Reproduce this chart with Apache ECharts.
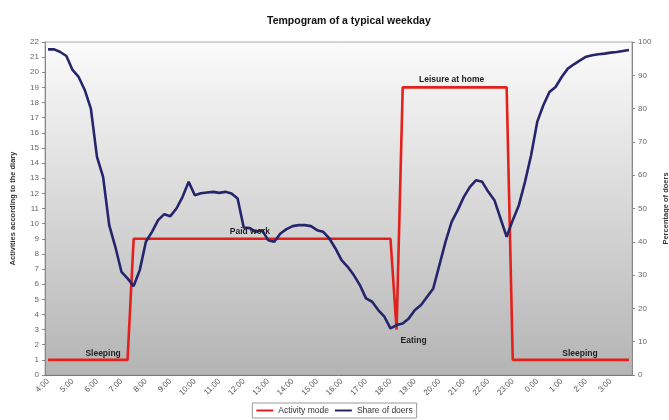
<!DOCTYPE html>
<html><head><meta charset="utf-8">
<script src="https://cdn.jsdelivr.net/npm/echarts@6/dist/echarts.min.js"></script>
<style>html,body{margin:0;padding:0;background:#fff}#c{width:669px;height:420px}</style>
</head><body><div id="c"></div>
<script>
// hour tick labels (4:00 to 3:00 next day)
var hourLabels = ['4:00','5:00','6:00','7:00','8:00','9:00','10:00','11:00','12:00','13:00','14:00','15:00',
  '16:00','17:00','18:00','19:00','20:00','21:00','22:00','23:00','0:00','1:00','2:00','3:00'];
// 15-minute categories
var categories = [];
hourLabels.forEach(function(h){ var p = h.split(':')[0]; categories.push(p+':00', p+':15', p+':30', p+':45'); });

// Activity mode (left axis, activity code)
var activityMode = [
  1,1,1,1,1,1,1,1,1,1,1,1,1,1,           // 4:00-7:15 sleeping
  9,9,9,9,9,9,9,9,9,9,9,9,9,9,9,9,9,9,9,9,9,9,9,9,9,9,9,9,9,9,9,9,9,9,9,9,9,9,9,9,9,9,9, // 7:30-18:00 paid work
  3,                                      // 18:15 eating
  19,19,19,19,19,19,19,19,19,19,19,19,19,19,19,19,19,19, // 18:30-22:45 leisure
  1,1,1,1,1,1,1,1,1,1,1,1,1,1,1,1,1,1,1,1  // 23:00-3:45 sleeping
];
// Share of doers (right axis, %)
var shareOfDoers = [
  97.8,97.8,97.0,95.8,91.6,89.5,85.6,80.0,65.5,59.5,45.0,38.5,31.0,29.0,26.7,31.5,
  40.0,43.0,46.5,48.3,47.7,50.0,53.5,58.0,54.0,54.6,54.8,55.0,54.7,55.0,54.5,53.0,
  44.3,44.1,43.0,43.5,40.5,40.0,42.5,43.8,44.7,45.0,45.0,44.7,43.5,43.0,41.0,38.0,
  34.5,32.5,30.0,27.0,23.0,22.0,19.5,17.5,14.0,15.0,15.5,17.0,19.5,21.0,23.5,26.0,
  33.0,40.0,46.0,49.5,53.5,56.5,58.5,58.0,55.0,52.5,47.0,41.5,46.5,51.0,58.0,66.0,
  76.0,81.0,85.0,86.5,89.5,92.0,93.3,94.5,95.6,96.0,96.3,96.5,96.8,97.0,97.3,97.6
];
// annotations on the activity line: [category index, text]
var annotations = [[9,'Sleeping'],[33,'Paid work'],[57,'Eating'],[66,'Leisure at home'],[87,'Sleeping']];

var chart = echarts.init(document.getElementById('c'), null, {renderer:'canvas'});
var font = 'Liberation Sans, Arial, sans-serif';
var annStyle = {
  'Eating': {position:'bottom', offset:[17,2]},
  'Sleeping': {position:'top', offset:[0,3]}
};
chart.setOption({
  animation:false,
  textStyle:{fontFamily:font},
  title:{text:'Tempogram of a typical weekday', left:262, top:11,
    textStyle:{fontSize:10.5, fontWeight:'bold', color:'#111', fontFamily:font}},
  legend:{bottom:2, left:'center', itemWidth:17, itemHeight:2, itemGap:6,
    data:['Activity mode','Share of doers'],
    icon:'rect',
    borderColor:'#999', borderWidth:1, padding:[3,4],
    textStyle:{fontSize:8.5, color:'#333', fontFamily:font}},
  grid:{left:45, right:37, top:42, bottom:45, show:true, borderColor:'#aaa', borderWidth:1,
    outerBoundsMode:'none', containLabel:false,
    backgroundColor:new echarts.graphic.LinearGradient(0,0,0,1,[{offset:0,color:'#fbfbfb'},{offset:1,color:'#b4b4b4'}])},
  xAxis:{type:'category', data:categories, boundaryGap:true,
    axisLine:{lineStyle:{color:'#777'}},
    axisTick:{interval:3, length:4, lineStyle:{color:'#777'}},
    axisLabel:{interval:3, rotate:45, fontSize:8, color:'#555', margin:5, fontFamily:font}},
  yAxis:[
    {type:'value', min:0, max:22, interval:1, name:'Activities according to the diary',
     nameLocation:'middle', nameGap:28, nameRotate:90,
     nameTextStyle:{fontSize:7.5, fontWeight:'bold', color:'#333', fontFamily:font},
     axisLine:{show:true, lineStyle:{color:'#888'}}, axisTick:{show:true, length:3, lineStyle:{color:'#888'}},
     splitLine:{show:false}, axisLabel:{fontSize:8, color:'#666', margin:6, fontFamily:font}},
    {type:'value', min:0, max:100, interval:10, name:'Percentage of doers', position:'right',
     nameLocation:'middle', nameGap:22, nameRotate:90,
     nameTextStyle:{fontSize:7.5, fontWeight:'bold', color:'#333', fontFamily:font},
     axisLine:{show:true, lineStyle:{color:'#888'}}, axisTick:{show:true, length:3, lineStyle:{color:'#888'}},
     splitLine:{show:false}, axisLabel:{fontSize:8, color:'#666', margin:6, fontFamily:font}}
  ],
  series:[
    {name:'Activity mode', type:'line', yAxisIndex:0, data:activityMode, symbol:'none',
     lineStyle:{color:'#e3201c', width:2.6}, itemStyle:{color:'#e3201c'},
     markPoint:{symbol:'circle', symbolSize:0, silent:true,
       data:annotations.map(function(a){
         var st = annStyle[a[1]] || {position:'top', offset:[0,2]};
         return {coord:[a[0], activityMode[a[0]]], value:a[1],
           label:{show:true, position:st.position, offset:st.offset, formatter:a[1],
             fontSize:8.5, fontWeight:'bold', color:'#222', fontFamily:font}};
       })}},
    {name:'Share of doers', type:'line', yAxisIndex:1, data:shareOfDoers, symbol:'none', smooth:false,
     lineStyle:{color:'#25256c', width:2.6}, itemStyle:{color:'#25256c'}}
  ]
});
</script></body></html>
